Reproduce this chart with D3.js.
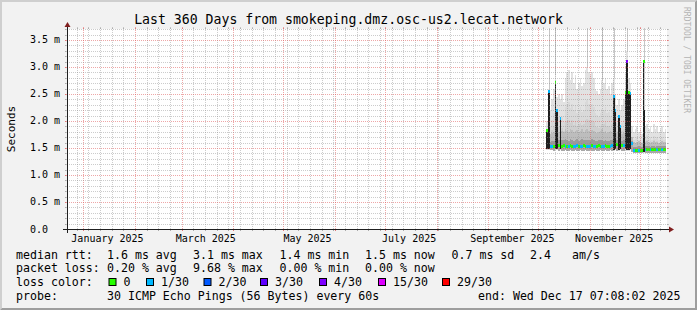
<!DOCTYPE html>
<html><head><meta charset="utf-8">
<script src="https://cdn.jsdelivr.net/npm/d3@7"></script>
<style>
html,body{margin:0;padding:0;background:#f2f2f2;}
svg{display:block;}
text{font-family:"DejaVu Sans Mono",monospace;fill:#000;}
</style></head><body>
<svg id="c" width="697" height="310"></svg>
<script>
// ---------------- data ----------------
const titleText = "Last 360 Days from smokeping.dmz.osc-us2.lecat.network";
const endTime = new Date(Date.UTC(2025, 11, 17, 7, 8, 2));
const spanDays = 360;
const dataStart = new Date(Date.UTC(2025, 9, 5, 19, 8, 2));   // first day of stored data
const yTicks = [0, 0.5, 1, 1.5, 2, 2.5, 3, 3.5];               // ms
const yTickLabels = ["0.0\u00a0\u00a0", "0.5 m", "1.0 m", "1.5 m", "2.0 m", "2.5 m", "3.0 m", "3.5 m"];
const yMax = 3.7037;                                            // ms
const monthLabels = ["January 2025", "March 2025", "May 2025", "July 2025", "September 2025", "November 2025"];

// one value per day, starting at dataStart (ms)
const median = [
  1.83,2.54,1.52,1.52,1.53,2.72,2.20,1.55,2.05,1.53,
  1.54,1.53,1.52,1.53,1.54,1.53,1.52,1.53,1.54,1.53,
  1.52,1.53,1.54,1.53,1.52,1.53,1.53,1.54,1.53,1.52,
  1.53,1.54,1.53,1.52,1.53,1.54,1.53,1.52,1.53,1.55,
  2.45,2.20,1.56,2.08,1.90,1.54,1.55,2.52,3.10,2.53,
  2.50,1.58,1.46,1.45,1.45,1.46,1.45,1.46,3.10,1.47,
  1.48,1.48,1.47,1.48,1.48,1.47,1.48,1.48,1.47,1.48,
  1.48,1.47];
const lossIdx = [
  0,1,1,1,0,0,1,0,1,0,
  0,1,0,1,0,0,1,1,1,0,
  1,1,0,0,1,1,1,0,1,1,
  0,0,0,1,1,0,0,0,1,1,
  1,1,0,1,1,0,1,0,4,0,
  1,1,1,0,0,1,0,0,0,1,
  0,0,1,0,0,0,1,0,0,1,
  0,0];
const smokeHi = [
  2.00,2.60,2.20,2.40,2.60,2.85,2.45,2.50,2.40,2.50,
  2.35,2.80,2.90,2.95,2.75,2.90,2.70,2.85,2.60,2.70,
  2.80,2.65,2.70,2.95,3.00,2.90,2.85,2.90,2.80,2.60,
  2.55,2.50,2.60,2.75,2.70,2.80,2.60,2.65,2.50,2.70,
  2.80,2.50,2.30,2.40,2.20,2.30,2.40,2.90,3.30,2.80,
  2.70,1.90,1.80,1.85,1.90,1.80,1.85,1.75,2.20,1.90,
  1.95,1.85,1.90,1.80,1.95,1.85,1.90,1.80,1.85,1.90,
  1.80,1.85];
const smokeMid = [
  1.60,1.60,1.75,1.78,1.80,1.60,1.60,1.80,1.60,1.82,
  1.80,1.85,1.82,1.80,1.85,1.83,1.80,1.82,1.84,1.80,
  1.82,1.85,1.80,1.83,1.86,1.82,1.80,1.84,1.82,1.80,
  1.78,1.80,1.82,1.85,1.80,1.82,1.78,1.80,1.82,1.80,
  1.60,1.60,1.78,1.60,1.60,1.75,1.78,1.60,1.60,1.60,
  1.60,1.70,1.62,1.60,1.62,1.63,1.61,1.60,1.60,1.62,
  1.63,1.62,1.60,1.62,1.63,1.61,1.62,1.60,1.62,1.63,
  1.61,1.62];
const smokeLo = [
  1.46,1.46,1.47,1.46,1.45,1.46,1.46,1.45,1.46,1.45,
  1.45,1.46,1.45,1.45,1.46,1.45,1.45,1.46,1.45,1.45,
  1.46,1.45,1.45,1.46,1.45,1.45,1.46,1.45,1.45,1.46,
  1.45,1.45,1.46,1.45,1.45,1.46,1.45,1.45,1.46,1.45,
  1.45,1.46,1.45,1.45,1.46,1.45,1.45,1.46,1.45,1.45,
  1.46,1.42,1.40,1.40,1.41,1.40,1.40,1.41,1.40,1.40,
  1.41,1.40,1.40,1.41,1.40,1.40,1.41,1.40,1.40,1.41,
  1.40,1.40];
const spikeMax = [
  0,3.72,0,0,0,3.72,0,0,0,0,
  0,0,0,0,0,0,0,0,0,0,
  0,0,0,0,3.72,0,0,0,0,0,
  0,0,0,3.72,0,0,0,0,0,0,
  3.72,0,0,0,0,0,0,0,3.72,0,
  0,0,0,0,0,0,0,0,3.72,0,
  0,0,0,0,0,0,0,0,0,0,
  0,0];
const lossColors = ["#26ff00", "#00b8ff", "#0059ff", "#5e00ff", "#7e00ff", "#dd00ff", "#ff0000"];
const lossLabels = ["0", "1/30", "2/30", "3/30", "4/30", "15/30", "29/30"];

const legendRtt = ["median rtt:", "1.6 ms avg", "3.1 ms max", "1.4 ms min", "1.5 ms now", "0.7 ms sd", "2.4", "am/s"];
const legendLoss = ["packet loss:", "0.20 % avg", "9.68 % max", "0.00 % min", "0.00 % now"];
const probeText = ["probe:", "30 ICMP Echo Pings (56 Bytes) every 60s", "end: Wed Dec 17 07:08:02 2025"];

// ---------------- layout ----------------
const W = 697, H = 310;
const X0 = 67, X1 = 667, Y0 = 229, Y1 = 29;
const svg = d3.select("#c");
const startTime = d3.utcDay.offset(endTime, -spanDays);
const x = d3.scaleUtc().domain([startTime, endTime]).range([X0, X1]);
const y = d3.scaleLinear().domain([0, yMax]).range([Y0, Y1]);

// background + 3D border
svg.append("rect").attr("width", W).attr("height", H).attr("fill", "#f2f2f2");
svg.append("path").attr("d", `M0,0H${W}L${W-2},2H2V${H-2}L0,${H}Z`).attr("fill", "#cfcfcf");
svg.append("path").attr("d", `M${W},0V${H}H0L2,${H-2}H${W-2}V2Z`).attr("fill", "#9e9e9e");
svg.append("rect").attr("x", X0).attr("y", Y1).attr("width", X1 - X0).attr("height", Y0 - Y1).attr("fill", "#fff");

// ---------------- smoke + median ----------------
const gData = svg.append("g").attr("shape-rendering", "crispEdges");
median.forEach((m, i) => {
  const t0 = d3.utcDay.offset(dataStart, i), t1 = d3.utcDay.offset(dataStart, i + 1);
  const xa = x(t0), xb = Math.min(x(t1), X1);
  const w = xb - xa;
  const hi = smokeHi[i], lo = smokeLo[i], mid = smokeMid[i];
  const spike = m > mid + 0.05;
  const band = (a, b, col) => gData.append("rect").attr("x", xa).attr("width", w)
      .attr("y", y(Math.max(a, b))).attr("height", Math.abs(y(a) - y(b))).attr("fill", col);
  band(lo, hi, "#e2e2e2");
  band(lo, lo + (hi - lo) * 0.6, "#d9d9d9");
  if (!spike) {
    band(m, m + (hi - m) * 0.35, "#cfcfcf");
    band(m, mid, "#bdbdbd");
    band(m, m + (mid - m) * 0.4, "#9a9a9a");
    band(lo, m, "#a8a8a8");
  } else {
    band(lo + 0.02, m, "#1e1e1e");
  }
  if (spikeMax[i] > 0) {
    const cx = Math.round(xa + w / 2) + 0.5;
    gData.append("line").attr("x1", cx).attr("x2", cx).attr("y1", y(hi)).attr("y2", y(spikeMax[i]))
      .attr("stroke", "#c6c6c6").attr("stroke-width", 1);
  }
  gData.append("rect").attr("x", xa).attr("width", w).attr("y", y(m) - 1.5).attr("height", 3)
    .attr("fill", lossColors[lossIdx[i]]);
});

// ---------------- grid ----------------
const gGrid = svg.append("g");
const minorCol = "rgba(143,143,143,0.45)", majorCol = "rgba(222,79,79,0.5)";
const months = d3.utcMonth.range(d3.utcMonth.ceil(startTime), endTime);
const monthSet = new Set(months.map(d => +d));
const weeks = d3.utcSaturday.range(startTime, endTime).filter(d => !monthSet.has(+d));
function vline(t, col) {
  const px = Math.round(x(t)) + 0.5;
  gGrid.append("line").attr("x1", px).attr("x2", px).attr("y1", Y0 + 2).attr("y2", Y1 - 2)
    .attr("stroke", col).attr("stroke-dasharray", "1,1");
  gGrid.append("line").attr("x1", px).attr("x2", px).attr("y1", Y0 + 2).attr("y2", Y0).attr("stroke", col);
  gGrid.append("line").attr("x1", px).attr("x2", px).attr("y1", Y1).attr("y2", Y1 - 2).attr("stroke", col);
}
weeks.forEach(t => vline(t, minorCol));
months.forEach(t => vline(t, majorCol));
function hline(v, col) {
  const py = Math.round(y(v)) + 0.5;
  gGrid.append("line").attr("x1", X0 - 2).attr("x2", X1 + 2).attr("y1", py).attr("y2", py)
    .attr("stroke", col).attr("stroke-dasharray", "1,1");
  gGrid.append("line").attr("x1", X0 - 2).attr("x2", X0).attr("y1", py).attr("y2", py).attr("stroke", col);
  gGrid.append("line").attr("x1", X1).attr("x2", X1 + 2).attr("y1", py).attr("y2", py).attr("stroke", col);
}
const minorTicks = d3.range(1, 38).map(k => k / 10).filter(v => v <= yMax && Math.abs(v * 2 - Math.round(v * 2)) > 1e-6);
minorTicks.forEach(v => hline(v, minorCol));
yTicks.filter(v => v > 0).forEach(v => hline(v, majorCol));

// ---------------- axes ----------------
svg.append("line").attr("x1", X0 - 4).attr("x2", X1 + 4).attr("y1", Y0 + 0.5).attr("y2", Y0 + 0.5)
  .attr("stroke", "#1f1f1f");
svg.append("line").attr("x1", X0 + 0.5).attr("x2", X0 + 0.5).attr("y1", Y0 + 4).attr("y2", Y1 - 4)
  .attr("stroke", "#1f1f1f");
svg.append("path").attr("d", `M${X1 + 2},${Y0 - 2.5}L${X1 + 2},${Y0 + 3.5}L${X1 + 7},${Y0 + 0.5}Z`).attr("fill", "#801f1f");
svg.append("path").attr("d", `M${X0 - 2.5},${Y1 - 2}L${X0 + 3.5},${Y1 - 2}L${X0 + 0.5},${Y1 - 7}Z`).attr("fill", "#801f1f");

// y labels
yTicks.forEach((v, k) => {
  svg.append("text").attr("x", 60).attr("y", y(v) + 3.5).attr("text-anchor", "end")
    .style("font-size", "10px").style("white-space", "pre").text(yTickLabels[k]);
});
// x labels: every 2nd month, centred half a month later
const labelMonths = d3.utcMonth.every(2).range(d3.utcMonth.ceil(startTime), endTime).filter(d => d.getUTCMonth() % 2 === 0);
labelMonths.forEach((t, k) => {
  svg.append("text").attr("x", x(d3.utcDay.offset(t, 15)) - 0.7).attr("y", 241.5).attr("text-anchor", "middle")
    .style("font-size", "10px").text(monthLabels[k]);
});

// title, unit, watermark
svg.append("text").attr("x", 348.5).attr("y", 24).attr("text-anchor", "middle")
  .style("font-size", "13.2px").text(titleText);
svg.append("text").attr("transform", "translate(14.5,129) rotate(-90)").attr("text-anchor", "middle")
  .style("font-size", "11px").text("Seconds");
svg.append("text").attr("transform", "translate(684,60) rotate(90)").attr("text-anchor", "middle")
  .style("font-size", "8px").style("fill", "#b4b4b4").text("RRDTOOL / TOBI OETIKER");

// ---------------- legend ----------------
const lf = "11.6px";
const colX = [16, 107, 193, 279.5, 365, 451.5, 530, 572];
const rowY = [258.5, 272.3, 286, 299.8];
legendRtt.forEach((s, k) => svg.append("text").attr("x", colX[k]).attr("y", rowY[0]).style("font-size", lf).text(s));
legendLoss.forEach((s, k) => svg.append("text").attr("x", colX[k]).attr("y", rowY[1]).style("font-size", lf).text(s));
svg.append("text").attr("x", 16).attr("y", rowY[2]).style("font-size", lf).text("loss color:");
const boxX = [108.5, 146, 203.5, 260, 319, 378, 442];
lossLabels.forEach((s, k) => {
  svg.append("rect").attr("x", boxX[k] + 0.5).attr("y", 278.5).attr("width", 7).attr("height", 7)
    .attr("fill", lossColors[k]).attr("stroke", "#000").attr("stroke-width", 1);
  svg.append("text").attr("x", boxX[k] + 15).attr("y", rowY[2]).style("font-size", lf).text(s);
});
svg.append("text").attr("x", 16).attr("y", rowY[3]).style("font-size", lf).text(probeText[0]);
svg.append("text").attr("x", 107).attr("y", rowY[3]).style("font-size", lf).text(probeText[1]);
svg.append("text").attr("x", 478).attr("y", rowY[3]).style("font-size", lf).text(probeText[2]);
</script>
</body></html>
